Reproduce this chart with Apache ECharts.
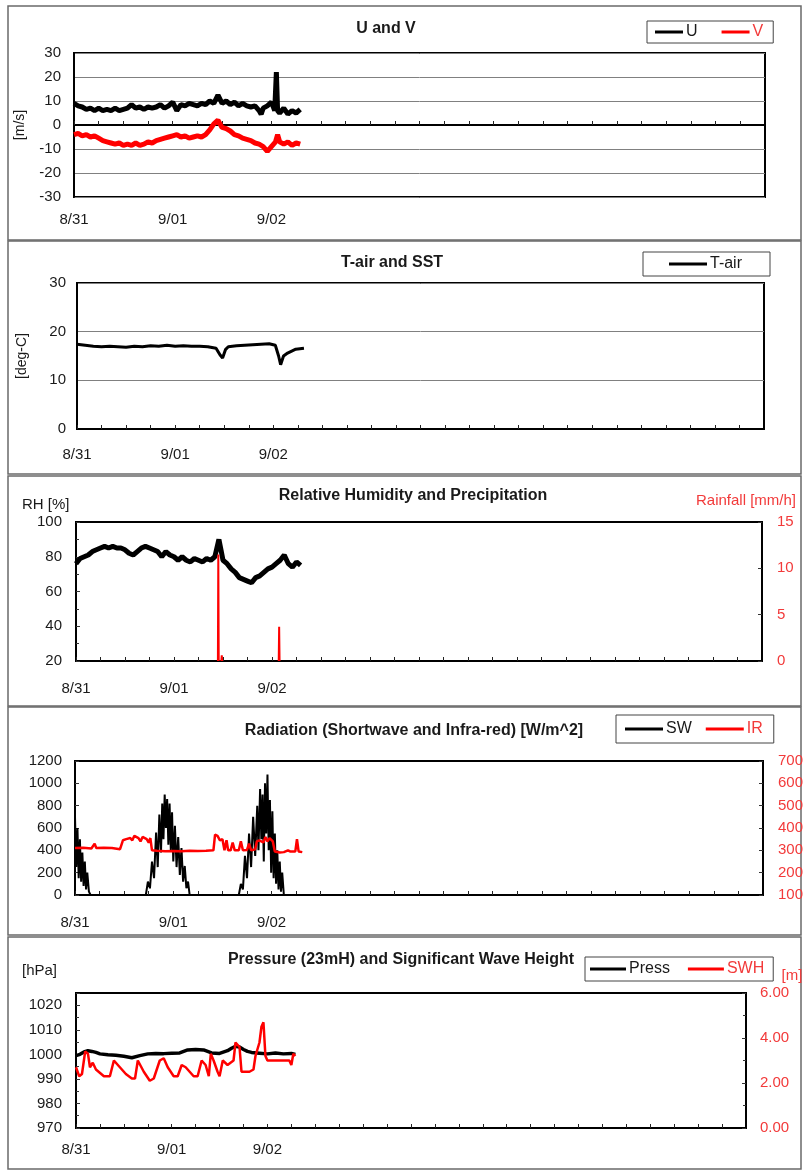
<!DOCTYPE html>
<html><head><meta charset="utf-8">
<script src="https://cdn.jsdelivr.net/npm/echarts@6/dist/echarts.min.js"></script>
<style>html,body{margin:0;padding:0;background:#fff;}#c{width:807px;height:1170px;}</style>
</head><body><div id="c"></div>
<script>
// ---- tick labels (hours since 8/31 00:00) ----
const dayTicks = [0, 24, 48];
const dayLabels = ['8/31', '9/01', '9/02'];

// ---- U and V [m/s] ----
const U = [[0,9],[1,8],[2,7.5],[3,6.5],[4,7],[5,6],[6,7],[7,6],[8,6.5],[9,6],[10,7],[11,6],[12,6.5],[13,7],[14,8.5],[15,7],[16,7.5],[17,6.5],[18,7.5],[19,7],[20,7.5],[21,8.5],[22,7],[23,8],[24,9.5],[25,6],[26,8.5],[27,8],[28,9],[29,8.5],[30,8],[31,9],[32,8.5],[33,10],[34,9],[35,12.5],[36,9],[37,10],[38,8.5],[39,9.5],[40,8],[41,9],[42,8],[43,7.5],[44,8],[45,6],[45.5,4.5],[46,7],[47,8],[48,9.5],[48.8,6],[49.2,22],[49.5,6],[50,5],[51,7],[52,4.5],[53,6],[54,5],[55,6.5]];
const V = [[0,-4],[1,-3.5],[2,-4.5],[3,-4],[4,-5],[5,-4.5],[6,-5.5],[7,-6.5],[8,-7],[9,-7.5],[10,-8],[11,-7.5],[12,-8.5],[13,-8],[14,-8.5],[15,-7.5],[16,-8.5],[17,-8],[18,-7],[19,-7.5],[20,-6.5],[21,-6],[22,-5.5],[23,-5],[24,-4.5],[25,-4],[26,-5],[27,-4.5],[28,-5.5],[29,-5],[30,-4.5],[31,-5],[32,-4],[33,-2],[34,0.5],[35,2],[36,-1],[37,-1.5],[38,-2.5],[39,-4],[40,-4.5],[41,-5.5],[42,-6],[43,-6.5],[44,-7.5],[45,-8],[46,-9],[47,-11],[48,-9],[49,-7],[49.5,-4],[50,-7],[51,-8],[52,-7],[53,-8.5],[54,-7.5],[55,-8]];

// ---- T-air [deg-C] ----
const Tair = [[0,17.4],[2,17.2],[4,17.0],[6,16.9],[8,17.0],[10,16.9],[12,16.8],[14,17.0],[16,16.9],[18,17.1],[20,17.0],[22,17.2],[24,17.0],[26,17.1],[28,17.0],[30,17.0],[32,16.9],[34,16.6],[35,15.2],[35.6,14.6],[36.3,16.3],[37,16.9],[39,17.1],[41,17.2],[43,17.3],[45,17.4],[47,17.5],[48.5,17.2],[49.3,15.0],[49.8,13.2],[50.5,15.0],[51.5,15.6],[52.5,16.0],[53.5,16.4],[54.5,16.5],[55.5,16.6]];

// ---- RH [%] and Rainfall [mm/h] ----
const RH = [[0,76],[1,79],[2,80],[3,81],[4,83],[5,84],[6,85],[7,86],[8,85],[9,86],[10,85],[11,85],[12,84],[13,82],[14,81],[15,83],[16,85],[17,86],[18,85],[19,84],[20,83],[21,80],[22,83],[23,81],[24,80],[25,78],[26,80],[27,78],[28,77],[29,79],[30,78],[31,77],[32,79],[33,78],[34,80],[34.8,88],[35,90],[35.5,84],[36,78],[37,76],[38,73],[39,71],[40,68],[41,67],[42,66],[43,65],[44,68],[45,69],[46,71],[47,73],[48,74],[49,76],[50,78],[51,81],[52,76],[53,74],[54,77],[55,75]];
const Rain = [[34.75,0],[34.85,11.5],[34.95,0],[35.3,null],[35.6,0],[35.7,0.6],[35.8,0],[40,null],[49.65,0],[49.75,3.7],[49.85,0]];

// ---- Radiation SW, IR [W/m^2] ----
const SW = [[0,700],[0.3,250],[0.6,600],[0.9,150],[1.2,500],[1.5,120],[1.8,380],[2.1,80],[2.4,300],[2.7,50],[3.0,200],[3.4,30],[3.8,0],[17.3,0],[17.8,120],[18.3,60],[18.8,300],[19.3,150],[19.8,560],[20.2,250],[20.6,720],[21.0,380],[21.3,820],[21.6,500],[21.9,900],[22.2,600],[22.5,860],[22.8,450],[23.1,820],[23.4,400],[23.7,740],[24.0,300],[24.4,620],[24.8,250],[25.2,520],[25.6,180],[26.0,420],[26.4,120],[26.8,260],[27.2,60],[27.6,120],[28.0,0],[40,0],[40.5,100],[41,50],[41.5,350],[42,150],[42.5,550],[43,250],[43.5,700],[44,350],[44.5,800],[44.8,400],[45.2,950],[45.5,500],[45.8,900],[46.1,300],[46.4,1000],[46.7,550],[47.0,1080],[47.3,400],[47.6,850],[47.9,200],[48.2,750],[48.5,150],[48.8,550],[49.1,100],[49.4,400],[49.7,50],[50.0,300],[50.3,30],[50.6,200],[51.0,0],[55.5,0]];
const IR = [[0,310],[2,312],[4,308],[4.8,330],[5.2,310],[7,312],[9,310],[11,305],[11.7,345],[12.5,350],[13.5,355],[14,345],[14.5,365],[15.5,355],[16,340],[16.5,360],[17.5,350],[18,335],[18.4,355],[18.8,300],[20,298],[22,296],[24,297],[26,296],[28,298],[30,297],[32,298],[33.8,300],[34.2,370],[34.8,365],[35.4,345],[36,350],[36.5,300],[37,345],[37.4,300],[38,300],[38.5,335],[39,300],[40,300],[40.5,340],[41,300],[42,302],[42.5,330],[43,300],[44,305],[44.4,340],[45,345],[46,335],[46.5,360],[47,340],[47.5,355],[48.3,340],[48.8,295],[50,290],[51,292],[52,300],[52.5,295],[53.8,295],[54.2,350],[54.6,295],[55.5,292]];

// ---- Pressure [hPa] and SWH [m] ----
const Press = [[0,999.5],[1,1000],[2,1001],[3,1001.5],[4,1001.2],[5,1000.8],[6,1000.2],[8,999.8],[10,999.6],[12,999.2],[14,998.6],[16,999.5],[18,1000.2],[20,1000.4],[22,1000.3],[24,1000.5],[26,1000.6],[28,1001.8],[30,1002],[32,1001.8],[34,1000.6],[36,1000.4],[38,1001.5],[39,1002.5],[40,1003.3],[41,1003],[42,1002],[43,1001.2],[44,1000.8],[46,1000.5],[48,1000.2],[50,1000.6],[52,1000.2],[54,1000.4],[55,1000]];
const SWH = [[0,2.7],[0.8,2.3],[1.5,2.4],[2.3,3.4],[3,3.3],[3.5,2.7],[4.2,2.9],[5,2.6],[7,2.3],[8.5,2.3],[9.5,3.0],[11,2.7],[12.5,2.4],[14,2.2],[14.8,2.2],[15.5,3.0],[17,2.5],[18.5,2.1],[19.5,2.2],[21,3.0],[22,3.1],[23,2.7],[24.5,2.3],[25.5,2.3],[26.5,2.8],[27.5,2.7],[29.5,2.3],[30.5,2.3],[31.5,3.0],[32.5,2.8],[33.3,2.3],[33.8,3.3],[34.5,3.0],[35.5,2.5],[36,2.3],[36.8,3.0],[38,2.8],[39.5,3.0],[40,3.8],[41,3.6],[41.5,2.5],[43.5,2.5],[44.5,2.6],[45,3.2],[46,3.8],[46.5,4.5],[47,4.7],[47.5,3.2],[48,3.0],[50,3.0],[51,3.0],[53.5,3.0],[54,2.8],[54.5,3.3],[55,3.2]];

// ---- styling ----
const FONT = 'Liberation Sans, Arial, sans-serif';
const RED = '#ff0000';
const RTXT = '#f23a3a';
const TXT = '#1a1a1a';
const FS = 15;

const grids = [
  {left:74, top:53, width:691, height:144},
  {left:77, top:283, width:687, height:146},
  {left:76, top:522, width:686, height:139},
  {left:75, top:761, width:688, height:134},
  {left:76, top:993, width:670, height:135}
].map(g => Object.assign({show:true, borderColor:'#000', borderWidth:2, backgroundColor:'transparent', containLabel:false, outerBoundsMode:'none'}, g));

const xMargins = [15, 18, 20, 20, 14];
function xAx(i){
  return {gridIndex:i, type:'value', min:0, max:168, interval:6,
    axisLine:{show:true, lineStyle:{color:'#000', width:2}},
    axisTick:{show:true, inside:true, length:4, lineStyle:{color:'#222', width:1}},
    axisLabel:{color:TXT, fontSize:FS, fontFamily:FONT, margin:xMargins[i], showMaxLabel:false,
      formatter: v => { const k = dayTicks.indexOf(v); return k >= 0 ? dayLabels[k] : ''; }},
    splitLine:{show:false}};
}
function lab(color, margin, fmt){
  return {color:color, fontSize:FS, fontFamily:FONT, margin:margin, formatter: fmt || (v => String(v))};
}
function yAx(i, o){
  return Object.assign({gridIndex:i, type:'value',
    axisLine:{show:true, lineStyle:{color:'#000', width:2}},
    axisTick:{show:false},
    splitLine:{show:false},
    axisLabel:lab(TXT, 12)}, o);
}
const inTick = {show:true, inside:true, length:4, lineStyle:{color:'#333'}};
const minor = {show:true, splitNumber:2, length:3, lineStyle:{color:'#333'}};
const nameStyle = {color:TXT, fontSize:14, fontFamily:FONT};

const option = {
  animation:false,
  backgroundColor:'#fff',
  grid: grids,
  xAxis: [0,1,2,3,4].map(xAx),
  yAxis: [
    yAx(0, {min:-30, max:30, interval:10, splitLine:{show:true, lineStyle:{color:'#808080', width:1}},
      axisLabel:lab(TXT, 13), name:'[m/s]', nameLocation:'middle', nameGap:47, nameTextStyle:nameStyle}),
    yAx(1, {min:0, max:30, interval:10, splitLine:{show:true, lineStyle:{color:'#808080', width:1}},
      axisLabel:lab(TXT, 11), name:'[deg-C]', nameLocation:'middle', nameGap:48, nameTextStyle:nameStyle}),
    yAx(2, {min:20, max:100, interval:20, axisTick:inTick, minorTick:minor, axisLabel:lab(TXT, 14)}),
    yAx(2, {position:'right', min:0, max:15, interval:5, axisTick:inTick, axisLabel:lab(RTXT, 15)}),
    yAx(3, {min:0, max:1200, interval:200, axisTick:inTick, axisLabel:lab(TXT, 13)}),
    yAx(3, {position:'right', min:100, max:700, interval:100, axisTick:inTick, axisLabel:lab(RTXT, 15)}),
    yAx(4, {min:970, max:1025, interval:10, axisTick:inTick, minorTick:minor, axisLabel:Object.assign(lab(TXT, 14), {showMaxLabel:false})}),
    yAx(4, {position:'right', min:0, max:6, interval:2, axisTick:inTick, minorTick:minor, axisLabel:lab(RTXT, 14, v => v.toFixed(2))})
  ],
  legend: [
    {data:['U', {name:'V', textStyle:{color:RTXT}}], left:647, top:21, itemWidth:28, itemGap:24, padding:[3,10,3,8]},
    {data:['T-air'], left:643, top:252, itemWidth:38, padding:[4,28,4,26]},
    {data:['SW', {name:'IR', textStyle:{color:RTXT}}], left:616, top:715, itemWidth:38, itemGap:14, padding:[6,11,6,9]},
    {data:['Press', {name:'SWH', textStyle:{color:RTXT}}], left:585, top:957, itemWidth:36, itemGap:18, padding:[4,9,4,5]}
  ].map(l => Object.assign({icon:'rect', itemHeight:3,
      borderColor:'#444', borderWidth:1, backgroundColor:'#fff',
      textStyle:{color:TXT, fontSize:16, fontFamily:FONT, padding:[0,0,0,-2]}}, l)),
  series: [
    {name:'U', type:'line', xAxisIndex:0, yAxisIndex:0, data:U, color:'#000', lineStyle:{width:5}},
    {name:'V', type:'line', xAxisIndex:0, yAxisIndex:0, data:V, color:RED, lineStyle:{width:5}},
    {name:'T-air', type:'line', xAxisIndex:1, yAxisIndex:1, data:Tair, color:'#000', lineStyle:{width:3}},
    {name:'RH', type:'line', xAxisIndex:2, yAxisIndex:2, data:RH, color:'#000', lineStyle:{width:5}},
    {name:'Rainfall', type:'line', xAxisIndex:2, yAxisIndex:3, data:Rain, color:RED, lineStyle:{width:2}, connectNulls:false},
    {name:'SW', type:'line', xAxisIndex:3, yAxisIndex:4, data:SW, color:'#000', lineStyle:{width:2}},
    {name:'IR', type:'line', xAxisIndex:3, yAxisIndex:5, data:IR, color:RED, lineStyle:{width:2.5}},
    {name:'Press', type:'line', xAxisIndex:4, yAxisIndex:6, data:Press, color:'#000', lineStyle:{width:3.5}},
    {name:'SWH', type:'line', xAxisIndex:4, yAxisIndex:7, data:SWH, color:RED, lineStyle:{width:2.5}}
  ].map(s => Object.assign({showSymbol:false, symbol:'none', z:3}, s)),
  graphic: [
    // panel frames
    ...[[6,234],[241,233],[476,230],[707,228],[937,232]].map(([y,h]) => ({type:'rect', silent:true, z:-10,
      shape:{x:8, y:y, width:793, height:h}, style:{fill:'none', stroke:'#6a6a6a', lineWidth:1.5}})),
    // titles
    ...[
      ['U and V', 386, 29],
      ['T-air and SST', 392, 263],
      ['Relative Humidity and Precipitation', 413, 496],
      ['Radiation (Shortwave and Infra-red) [W/m^2]', 414, 731],
      ['Pressure (23mH) and Significant Wave Height', 401, 960]
    ].map(([t,x,y]) => ({type:'text', silent:true, z:10,
      style:{text:t, x:x, y:y, fill:TXT, align:'center', verticalAlign:'middle', font:'bold 16px ' + FONT}})),
    // free axis captions
    ...[
      ['RH [%]', 22, 505, TXT, 'left'],
      ['Rainfall [mm/h]', 796, 501, RTXT, 'right'],
      ['[hPa]', 22, 971, TXT, 'left'],
      ['[m]', 792, 976, RTXT, 'center']
    ].map(([t,x,y,c,a]) => ({type:'text', silent:true, z:10,
      style:{text:t, x:x, y:y, fill:c, align:a, verticalAlign:'middle', font:'15px ' + FONT}}))
  ]
};
const chart = echarts.init(document.getElementById('c'), null, {renderer:'canvas'});
chart.setOption(option);
</script></body></html>
